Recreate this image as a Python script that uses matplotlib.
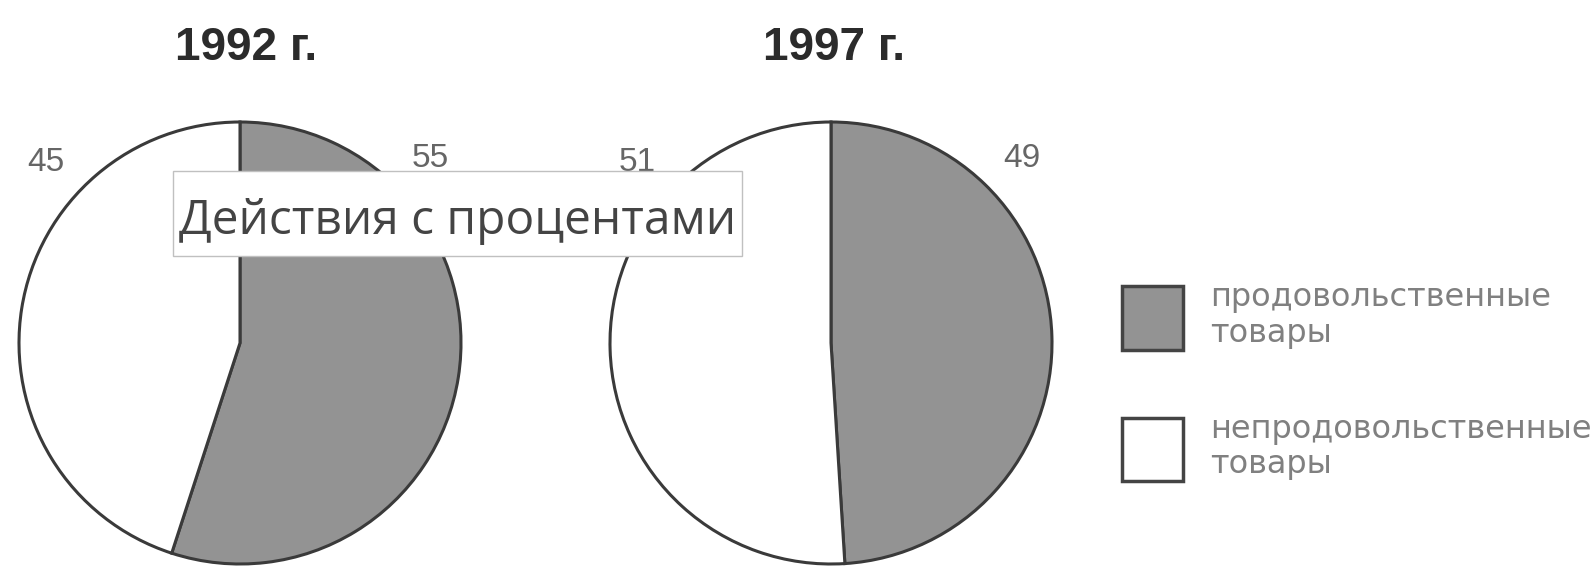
import matplotlib.pyplot as plt
from matplotlib.patches import Rectangle
import numpy as np

plt.rcParams["font.family"] = "Liberation Sans"

years = ["1992 г.", "1997 г."]
categories = ["продовольственные\nтовары", "непродовольственные\nтовары"]
food = [55, 49]
nonfood = [45, 51]
colors = ["#939393", "#ffffff"]
overlay = "Действия с процентами"

W, H = 1595, 567
fig = plt.figure(figsize=(W / 100, H / 100), dpi=100)

r_px = 221
centers = [(240, 343), (831, 343)]
title_x = [246, 834]

wedges = None
for i, (cx, cy) in enumerate(centers):
    ax = fig.add_axes([(cx - r_px) / W, (H - cy - r_px) / H, 2 * r_px / W, 2 * r_px / H])
    wedges, _ = ax.pie([food[i], nonfood[i]], colors=colors, startangle=90, counterclock=False,
                       radius=1, wedgeprops=dict(edgecolor="#3a3a3a", linewidth=2.2, clip_on=False))
    ax.set_xlim(-1, 1)
    ax.set_ylim(-1, 1)
    ax.set_aspect("equal")
    ax.axis("off")
    # value labels: food to the upper right, non-food to the upper left
    d = 1.2
    ax.text(d * np.cos(np.radians(44)), d * np.sin(np.radians(44)), str(food[i]),
            ha="center", va="center", fontsize=24, color="#666666", clip_on=False)
    ax.text(d * np.cos(np.radians(137)), d * np.sin(np.radians(137)), str(nonfood[i]),
            ha="center", va="center", fontsize=24, color="#666666", clip_on=False)
    fig.text(title_x[i] / W, 1 - 48 / H, years[i], ha="center", va="center",
             fontsize=33, fontweight="bold", color="#2b2b2b")

# overlay caption box
fig.patches.append(Rectangle((173 / W, 1 - 256 / H), (742 - 173) / W, 85 / H,
                             transform=fig.transFigure, facecolor="white",
                             edgecolor="#c0c0c0", linewidth=1, zorder=5))
fig.text(458 / W, 1 - 221 / H, overlay, ha="center", va="center", fontsize=34.5,
         family="Open Sans", color="#444444", zorder=6)

leg = fig.legend(wedges, categories, loc="upper left", bbox_to_anchor=(1122 / W, 1 - 282 / H),
                 frameon=False, handlelength=1.91, handleheight=2.7,
                 handletextpad=0.85, labelspacing=2.0, borderpad=0, borderaxespad=0,
                 prop={"family": "DejaVu Sans", "size": 23})
for t in leg.get_texts():
    t.set_color("#808080")
for h in leg.legend_handles:
    h.set_edgecolor("#444444")
    h.set_linewidth(2.5)

fig.savefig("out.png", dpi=100)
